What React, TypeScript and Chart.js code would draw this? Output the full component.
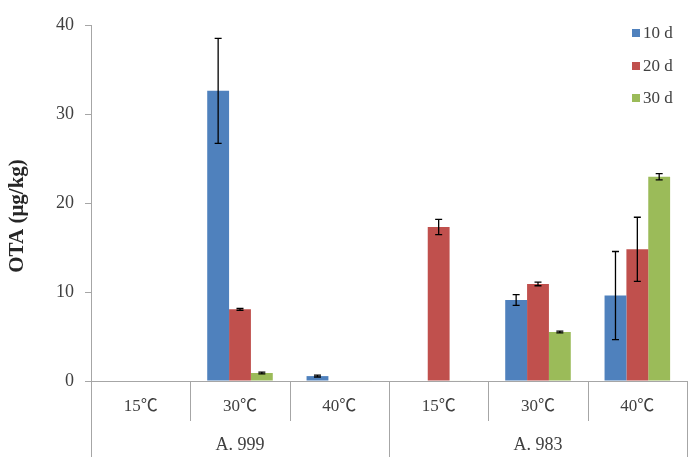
import React, { useEffect, useRef } from "react";
import { Chart, registerables } from "chart.js";

Chart.register(...registerables);

const categories = ["15℃", "30℃", "40℃", "15℃", "30℃", "40℃"];
const groups = ["A. 999", "A. 983"];
const seriesNames = ["10 d", "20 d", "30 d"];
const d10 = [0, 32.6, 0.55, 0, 9.1, 9.6];
const d10err = [0, 5.9, 0.1, 0, 0.6, 4.95];
const d20 = [0, 8.05, 0, 17.3, 10.9, 14.8];
const d20err = [0, 0.1, 0, 0.85, 0.2, 3.6];
const d30 = [0, 0.9, 0.05, 0.05, 5.5, 22.95];
const d30err = [0, 0.1, 0, 0, 0.1, 0.35];
const yTicks = [0, 10, 20, 30, 40];

const colors = ["#4f81bd", "#c0504d", "#9bbb59"];
const FONT = "'Liberation Serif', 'Noto Sans CJK SC', serif";
const AXIS = "#a6a6a6";

const errors = [d10err, d20err, d30err];

const errorBarPlugin = {
  id: "errorBars",
  afterDatasetsDraw(chart: any) {
    const ctx = chart.ctx;
    const y = chart.scales.y;
    ctx.save();
    ctx.strokeStyle = "#000";
    ctx.lineWidth = 1.3;
    chart.data.datasets.forEach((ds: any, i: number) => {
      const meta = chart.getDatasetMeta(i);
      meta.data.forEach((bar: any, j: number) => {
        const e = errors[i][j];
        const v = ds.data[j];
        if (!e) return;
        const top = y.getPixelForValue(v + e);
        const bot = y.getPixelForValue(v - e);
        ctx.beginPath();
        ctx.moveTo(bar.x, top);
        ctx.lineTo(bar.x, bot);
        ctx.moveTo(bar.x - 3.5, top);
        ctx.lineTo(bar.x + 3.5, top);
        ctx.moveTo(bar.x - 3.5, bot);
        ctx.lineTo(bar.x + 3.5, bot);
        ctx.stroke();
      });
    });
    ctx.restore();
  },
};

const decorPlugin = {
  id: "decor",
  afterDraw(chart: any) {
    const ctx = chart.ctx;
    const x = chart.scales.x;
    const area = chart.chartArea;
    const n = categories.length;
    const w = (area.right - area.left) / n;
    ctx.save();
    ctx.strokeStyle = AXIS;
    ctx.lineWidth = 1;
    for (let i = 0; i <= n; i++) {
      const px = Math.round(area.left + i * w) + 0.5;
      const outer = i === 0 || i === n || i === n / 2;
      ctx.beginPath();
      ctx.moveTo(px, area.bottom);
      ctx.lineTo(px, outer ? 457 : 421);
      ctx.stroke();
    }
    ctx.fillStyle = "#404040";
    ctx.font = `17px ${FONT}`;
    ctx.textAlign = "center";
    ctx.textBaseline = "middle";
    categories.forEach((c, i) => {
      ctx.fillText(c, x.getPixelForValue(i), 407);
    });
    const gw = (area.right - area.left) / groups.length;
    ctx.font = `18px ${FONT}`;
    groups.forEach((g, i) => {
      ctx.fillText(g, area.left + gw * (i + 0.5), 445);
    });
    // y title
    ctx.save();
    ctx.translate(18, 216);
    ctx.rotate(-Math.PI / 2);
    ctx.font = `bold 21px ${FONT}`;
    ctx.fillStyle = "#262626";
    ctx.fillText("OTA (μg/kg)", 0, 0);
    ctx.restore();
    // legend
    ctx.textAlign = "left";
    ctx.font = `17px ${FONT}`;
    seriesNames.forEach((s, i) => {
      const cy = 33 + i * 32.5;
      ctx.fillStyle = colors[i];
      ctx.fillRect(632, Math.round(cy - 4), 8, 8);
      ctx.fillStyle = "#404040";
      ctx.fillText(s, 643, cy + 1);
    });
    ctx.restore();
  },
};

export default function App() {
  const ref = useRef<HTMLCanvasElement>(null);
  useEffect(() => {
    document.body.style.margin = "0";
    const chart = new Chart(ref.current!, {
      type: "bar",
      data: {
        labels: categories,
        datasets: [d10, d20, d30].map((d, i) => ({
          label: seriesNames[i],
          data: d,
          backgroundColor: colors[i],
          barPercentage: 1,
          categoryPercentage: 0.66,
        })),
      },
      options: {
        animation: false,
        responsive: false,
        layout: { padding: { top: 25, right: 8, left: 0, bottom: 0 } },
        plugins: { legend: { display: false }, tooltip: { enabled: false } },
        scales: {
          x: {
            afterFit: (s: any) => {
              s.height = 76;
            },
            ticks: { display: false },
            grid: { display: false },
            border: { display: true, color: AXIS, width: 1 },
          },
          y: {
            min: 0,
            max: 40,
            afterFit: (s: any) => {
              s.width = 91;
            },
            afterBuildTicks: (s: any) => {
              s.ticks = yTicks.map((v) => ({ value: v }));
            },
            ticks: {
              font: { family: FONT, size: 18 },
              color: "#404040",
              padding: 11,
            },
            grid: {
              drawOnChartArea: false,
              drawTicks: true,
              tickLength: 6,
              color: AXIS,
            },
            border: { display: true, color: AXIS, width: 1 },
          },
        },
      },
      plugins: [errorBarPlugin, decorPlugin],
    });
    return () => chart.destroy();
  }, []);
  return (
    <div style={{ width: 695, height: 457 }}>
      <canvas ref={ref} width={695} height={457} />
    </div>
  );
}
